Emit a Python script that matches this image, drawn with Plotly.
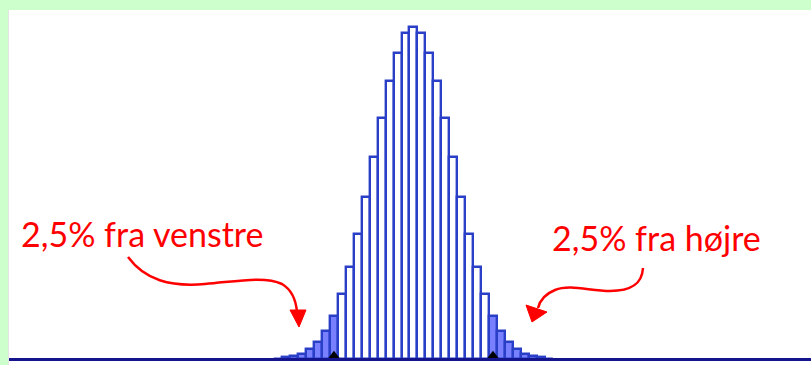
import plotly.graph_objects as go

# Binomialfordeling (n=100, p=0.5), sandsynlighed i procent
udfald = list(range(33, 68))
sandsynlighed = [0.02, 0.05, 0.09, 0.14, 0.25, 0.43, 0.67, 1.05, 1.56, 2.21,
                 3.00, 3.88, 4.84, 5.78, 6.67, 7.34, 7.82, 7.96, 7.82, 7.34,
                 6.67, 5.78, 4.84, 3.88, 3.00, 2.21, 1.56, 1.05, 0.67, 0.43,
                 0.25, 0.14, 0.09, 0.05, 0.02]
kritiske = [40, 60]
tekst_venstre = "2,5% fra venstre"
tekst_hoejre = "2,5% fra højre"

W, H = 811, 365
GREEN = "#ccffcc"
BAR_LINE = "#2a3fc8"
BAR_FILL = "#7880ff"
RED = "#ff0000"


def fx(x):
    return x / W


def fy(y):
    return 1 - y / H


def path(points):
    # points: liste af (kommando, [(x, y), ...]) i pixels
    s = ""
    for cmd, pts in points:
        s += cmd + " " + " ".join(f"{fx(x):.5f},{fy(y):.5f}" for x, y in pts) + " "
    return s.strip()


farver = [BAR_FILL if (k <= kritiske[0] or k >= kritiske[1]) else "white" for k in udfald]

fig = go.Figure()
fig.add_trace(go.Bar(
    x=udfald, y=sandsynlighed,
    marker=dict(color=farver, line=dict(color=BAR_LINE, width=2.4)),
    width=1, hoverinfo="x+y"
))
# sorte trekanter ved kritiske værdier
fig.add_trace(go.Scatter(
    x=kritiske, y=[0.09] * len(kritiske), mode="markers",
    marker=dict(symbol="triangle-up", size=10, color="black"),
    hoverinfo="skip"
))

shapes = []
# grøn ramme
shapes.append(dict(type="rect", xref="paper", yref="paper", x0=0, x1=fx(8), y0=0, y1=1,
                   fillcolor=GREEN, line_width=0, layer="above"))
shapes.append(dict(type="rect", xref="paper", yref="paper", x0=0, x1=1, y0=fy(10), y1=1,
                   fillcolor=GREEN, line_width=0, layer="above"))
shapes.append(dict(type="line", xref="paper", yref="paper", x0=fx(8.5), x1=fx(8.5), y0=0, y1=fy(10),
                   line=dict(color="#e4e4e4", width=1), layer="above"))
# x-akse linje
shapes.append(dict(type="line", xref="paper", yref="y", x0=fx(9), x1=1, y0=0, y1=0,
                   line=dict(color="#14148c", width=3), layer="above"))

# røde buede pile
venstre_kurve = path([
    ("M", [(128, 257)]),
    ("C", [(145, 280), (170, 287), (205, 284)]),
    ("C", [(240, 281), (265, 276), (282, 284)]),
    ("C", [(292, 290), (296, 300), (297, 312)]),
])
hoejre_kurve = path([
    ("M", [(643, 268)]),
    ("C", [(642, 285), (630, 291), (610, 291)]),
    ("C", [(590, 291), (570, 284), (555, 290)]),
    ("C", [(545, 294), (540, 300), (538, 308)]),
])
for p in (venstre_kurve, hoejre_kurve):
    shapes.append(dict(type="path", xref="paper", yref="paper", path=p,
                       line=dict(color=RED, width=2.5)))
venstre_spids = path([("M", [(290, 310)]), ("L", [(306, 310)]), ("L", [(299, 327)]), ("Z", [])])
hoejre_spids = path([("M", [(526, 305)]), ("L", [(547, 312)]), ("L", [(532, 322)]), ("Z", [])])
for p in (venstre_spids, hoejre_spids):
    shapes.append(dict(type="path", xref="paper", yref="paper", path=p,
                       fillcolor=RED, line=dict(color=RED, width=1)))

fig.update_layout(
    width=W, height=H,
    margin=dict(l=0, r=0, t=0, b=0),
    paper_bgcolor="white", plot_bgcolor="white",
    showlegend=False, bargap=0,
    xaxis=dict(visible=False, range=[-2.0, 100.0]),
    yaxis=dict(visible=False, range=[-0.132, 8.60]),
    shapes=shapes,
)
fig.add_annotation(x=fx(142), y=fy(233), xref="paper", yref="paper", text=tekst_venstre,
                   xanchor="center", yanchor="middle",
                   showarrow=False, font=dict(family="Lato", size=34, color=RED))
fig.add_annotation(x=fx(656), y=fy(237), xref="paper", yref="paper", text=tekst_hoejre,
                   xanchor="center", yanchor="middle",
                   showarrow=False, font=dict(family="Lato", size=34, color=RED))

fig.write_html("out.html", config={"displayModeBar": False},
               post_script="document.body.style.margin='0';document.body.style.overflow='hidden';")
